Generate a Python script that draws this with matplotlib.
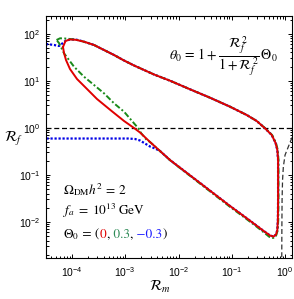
import matplotlib
matplotlib.use("Agg")
import matplotlib.pyplot as plt
import numpy as np

# curves, stored as log10(R_m), log10(R_f)
red_logrm = [-4.169, -4.122, -4.038, -3.925, -3.775, -3.587, -3.399, -3.211, -3.023, -2.836,
             -2.648, -2.460, -2.160, -1.784, -1.408, -1.033, -0.719, -0.532, -0.376, -0.250,
             -0.178, -0.145, -0.131, -0.131, -0.131, -0.135, -0.145, -0.169, -0.216, -0.282,
             -0.413, -0.563, -0.751, -1.033, -1.315, -1.596, -1.878, -2.160, -2.347, -2.535,
             -2.723, -2.836, -3.023, -3.268, -3.531, -3.737, -3.906, -4.038, -4.113, -4.150, -4.169]
red_logrf = [1.719, 1.847, 1.879, 1.872, 1.832, 1.762, 1.655, 1.549, 1.432, 1.326,
             1.230, 1.134, 1.002, 0.819, 0.640, 0.449, 0.272, 0.145, -0.011, -0.153,
             -0.323, -0.472, -0.685, -1.111, -1.536, -1.962, -2.174, -2.270, -2.313, -2.291,
             -2.185, -2.057, -1.898, -1.664, -1.419, -1.174, -0.930, -0.685, -0.494, -0.302,
             -0.100, -0.004, 0.145, 0.368, 0.613, 0.847, 1.038, 1.251, 1.443, 1.591, 1.719]

green_logrm = [-4.291, -4.225, -4.131, -4.000, -3.850, -3.587, -3.399, -3.211, -3.023, -2.836,
               -2.648, -2.460, -2.160, -1.784, -1.408, -1.033, -0.719, -0.532, -0.372, -0.243,
               -0.170, -0.137, -0.123, -0.123, -0.123, -0.127, -0.140, -0.170, -0.225, -0.295,
               -0.420, -0.570, -0.758, -1.040, -1.320, -1.600, -1.880, -2.160, -2.347, -2.535,
               -2.597, -2.704, -2.755, -2.836, -3.023, -3.211, -3.399, -3.587, -3.775, -3.962,
               -4.150, -4.244, -4.291]
green_logrf = [1.868, 1.904, 1.900, 1.885, 1.857, 1.762, 1.655, 1.549, 1.432, 1.326,
               1.230, 1.134, 1.002, 0.819, 0.640, 0.449, 0.272, 0.145, -0.011, -0.153,
               -0.323, -0.472, -0.685, -1.111, -1.536, -1.962, -2.190, -2.300, -2.345, -2.320,
               -2.205, -2.072, -1.912, -1.676, -1.430, -1.184, -0.938, -0.690, -0.496, -0.302,
               -0.260, -0.111, -0.011, 0.096, 0.343, 0.521, 0.734, 0.911, 1.087, 1.300,
               1.585, 1.804, 1.868]

blue_logrm = [-4.488, -4.338, -4.244, -4.182, -4.113, -4.019, -3.906, -3.775, -3.587, -3.399,
              -3.211, -3.023, -2.836, -2.648, -2.460, -2.160, -1.784, -1.408, -1.033, -0.719,
              -0.532, -0.376, -0.250, -0.178, -0.145, -0.131, -0.131, -0.131, -0.135, -0.145,
              -0.169, -0.216, -0.282, -0.413, -0.563, -0.751, -1.033, -1.315, -1.596, -1.878,
              -2.160, -2.347, -2.441, -2.535, -2.629, -2.723, -2.817, -2.948, -3.300, -3.900, -4.488]
blue_logrf = [1.783, 1.762, 1.740, 1.794, 1.857, 1.883, 1.872, 1.832, 1.762, 1.655,
              1.549, 1.432, 1.326, 1.230, 1.134, 1.002, 0.819, 0.640, 0.449, 0.272,
              0.145, -0.011, -0.153, -0.323, -0.472, -0.685, -1.111, -1.536, -1.962, -2.174,
              -2.270, -2.313, -2.291, -2.185, -2.057, -1.898, -1.664, -1.419, -1.174, -0.930,
              -0.685, -0.494, -0.440, -0.398, -0.334, -0.270, -0.238, -0.228, -0.228, -0.228, -0.228]

# dashed boundary near R_m ~ 1
bound_logrm = [0.131, 0.062, 0.000, -0.032, -0.047, -0.056, -0.060, -0.062, -0.062]
bound_logrf = [-0.206, -0.402, -0.579, -0.828, -1.111, -1.536, -2.174, -2.770, -3.000]

theta_labels = ["0", "0.3", "\u22120.3"]
colors = ["#e00000", "#1a8a1a", "#0000e6"]
text_colors = ["#e00000", "#2e8b57", "#1a1aff"]

plt.rcParams["font.family"] = "Liberation Sans"
plt.rcParams["mathtext.fontset"] = "stix"

fig = plt.figure(figsize=(2.94, 2.99), dpi=100)
ax = fig.add_axes([46 / 294, 41 / 299, 246 / 294, 242 / 299])

ax.plot(10 ** np.array(bound_logrm), 10 ** np.array(bound_logrf), color="#333333",
        lw=0.9, dashes=(4, 2.2))
ax.axhline(1.0, color="black", lw=0.9, dashes=(4, 2.2))

ax.plot(10 ** np.array(blue_logrm), 10 ** np.array(blue_logrf), color=colors[2],
        lw=1.6, linestyle=(0, (1, 0.8)))
ax.plot(10 ** np.array(green_logrm), 10 ** np.array(green_logrf), color=colors[1],
        lw=1.4, linestyle=(0, (3, 1.2, 1, 1.2)))
ax.plot(10 ** np.array(red_logrm), 10 ** np.array(red_logrf), color=colors[0], lw=1.4)

ax.set_xscale("log")
ax.set_yscale("log")
ax.set_xlim(3.25e-5, 1.35)
ax.set_ylim(1.7e-3, 239)

ax.tick_params(which="both", direction="in", top=True, right=True, labelsize=7.5, width=0.7)
ax.tick_params(which="major", length=3.2, pad=5)
ax.tick_params(which="minor", length=1.8)
ax.tick_params(axis="y", pad=4)
for s in ax.spines.values():
    s.set_linewidth(0.8)

ax.set_xlabel(r"$\mathcal{R}_m$", fontsize=10.5)
ax.set_ylabel(r"$\mathcal{R}_f$", fontsize=10.5, rotation=0, va="center", ha="center")
ax.xaxis.set_label_coords(0.463, -0.085)
ax.yaxis.set_label_coords(-0.13, 0.49)

ax.text(0.942, 0.835,
        r"$\theta_0 \,=\, 1 + \dfrac{\mathcal{R}_f^{\,2}}{1+\mathcal{R}_f^{\,2}}\,\Theta_0$",
        transform=ax.transAxes, ha="right", va="center", fontsize=10)

ax.text(0.069, 0.265, r"$\Omega_{\rm DM} h^2 \,=\, 2$", transform=ax.transAxes,
        fontsize=9.5, va="baseline")
ax.text(0.069, 0.176, r"$f_a \;=\; 10^{13}\;\mathrm{GeV}$", transform=ax.transAxes,
        fontsize=9.5, va="baseline")

# Theta_0 line, pieces coloured like the curves
y0 = 0.082
prev = ax.text(0.069, y0, r"$\Theta_0$", transform=ax.transAxes, fontsize=9.5, va="baseline")
pieces = [(" = (", "black")]
for i, lab in enumerate(theta_labels):
    pieces.append(((" " if i > 0 else "") + lab, text_colors[i]))
    pieces.append(("," if i < 2 else ")", "black"))
for s, c in pieces:
    prev = ax.annotate(s, xy=(1, y0), xycoords=(prev, "axes fraction"), color=c,
                       fontsize=9.5, family="STIXGeneral", va="baseline", ha="left")

fig.savefig("out.png", dpi=100)
